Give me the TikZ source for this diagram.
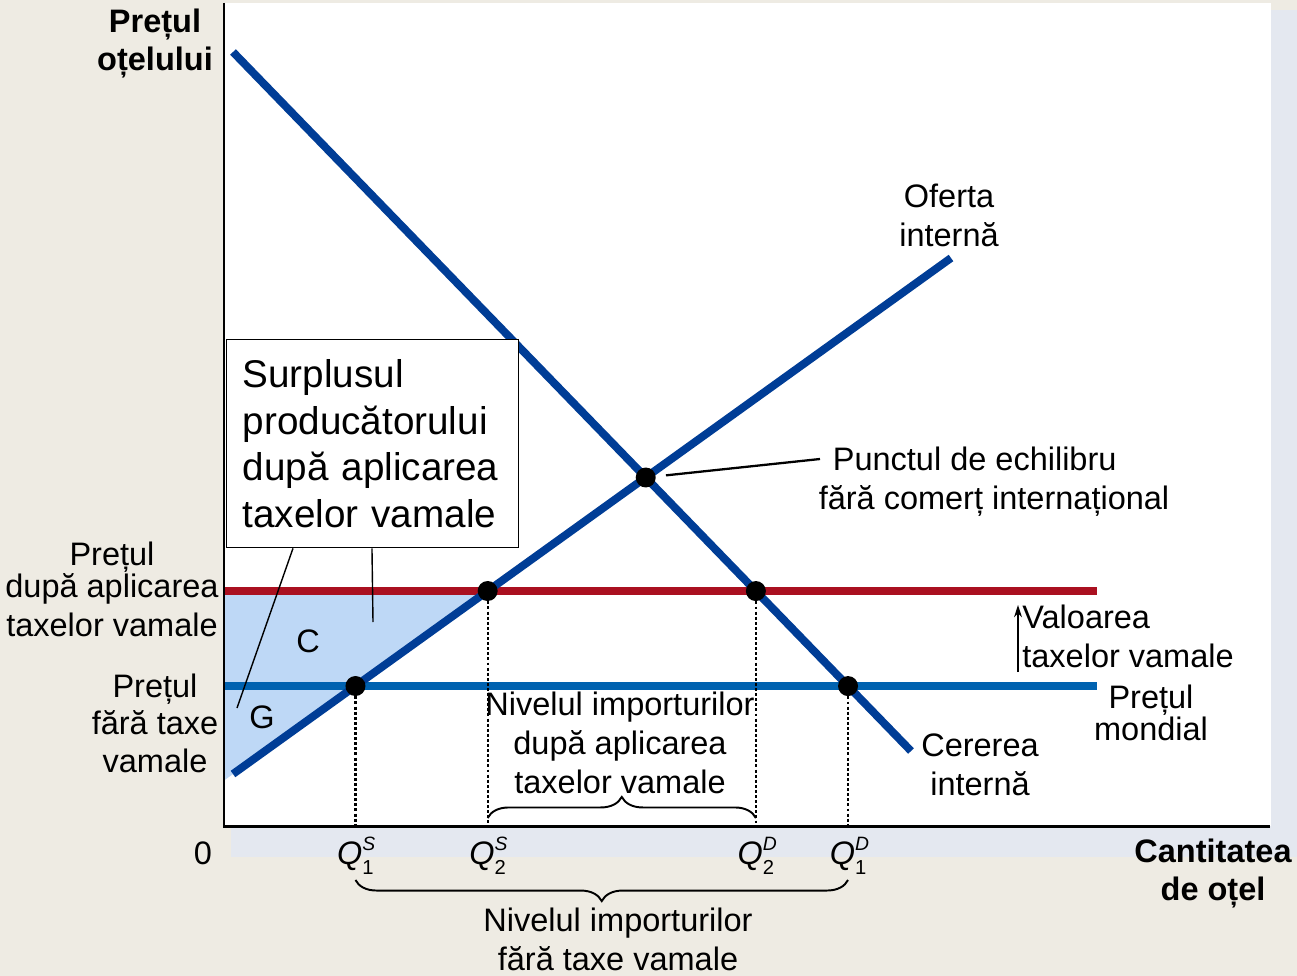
\documentclass[tikz,border=0pt]{standalone}
\usepackage{fontspec}
\setmainfont{Liberation Sans}
\usetikzlibrary{arrows.meta, positioning, decorations.pathreplacing}

\definecolor{bgbeige}{RGB}{238,235,227}
\definecolor{shadowgray}{RGB}{228,232,240}
\definecolor{curveblue}{RGB}{0,61,150}
\definecolor{tariffred}{RGB}{170,16,32}
\definecolor{worldblue}{RGB}{0,98,176}
\definecolor{surplusblue}{RGB}{190,216,246}

\newcommand{\qlab}[2]{\textit{Q}\rlap{\raisebox{0.8ex}{\fontsize{11}{11}\selectfont\textit{#2}}}\raisebox{-0.6ex}{\fontsize{11.5}{11.5}\selectfont #1}}

\begin{document}
\begin{tikzpicture}[
    x=0.02cm, y=-0.02cm,
    curve/.style={draw=curveblue, line width=4.5pt},
    tariffline/.style={draw=tariffred, line width=4.3pt},
    worldline/.style={draw=worldblue, line width=4pt},
    eqdot/.style={circle, fill=black, minimum size=0.4cm, inner sep=0pt},
    guide/.style={draw=black, line width=1.3pt, dash pattern=on 1.7pt off 1.2pt},
    axis/.style={draw=black, line width=1.7pt, line join=miter},
    lbl/.style={font=\fontsize{18.5}{22.3}\selectfont, align=center, inner sep=0pt},
    axtitle/.style={lbl, font=\fontsize{18.5}{21.8}\selectfont\bfseries},
    infobox/.style={draw=black, fill=white, line width=0.8pt, font=\fontsize{22}{26.5}\selectfont,
        text width=5.2cm, align=left, inner xsep=0.32cm, inner ysep=0.38cm, minimum height=4.16cm},
    pointer/.style={draw=black, line width=0.8pt},
    leader/.style={draw=black, line width=1.3pt, shorten <=0.2cm},
    bracedeco/.style={draw=black, line width=1.1pt, decorate, decoration={brace, amplitude=12pt}},
    tarrow/.style={draw=black, line width=0.9pt, -{Stealth[length=7pt, width=4.5pt]}}
]
    % Background
    \useasboundingbox (0,0) rectangle (1297,976);
    \fill[bgbeige] (0,0) rectangle (1297,976);
    \fill[shadowgray] (231,10) rectangle (1297,857);
    \fill[white] (224,3) rectangle (1271,826);

    % Axes and curve ends
    \coordinate (O) at (224,826);
    \coordinate (yTop) at (224,3);
    \coordinate (xEnd) at (1270,826);
    \coordinate (dTop) at (233,52);
    \coordinate (dEnd) at (911,751);
    \coordinate (sEnd) at (233,774);
    \coordinate (sTop) at (951,258);
    \coordinate (ptL) at (224,591);
    \coordinate (ptR) at (1097,591);
    \coordinate (pwL) at (224,686);
    \coordinate (pwR) at (1097,686);

    % Producer surplus
    \fill[surplusblue] (ptL) -- (intersection of ptL--ptR and sEnd--sTop)
        -- (intersection of sEnd--sTop and O--yTop) -- cycle;

    % Prices and curves
    \draw[tariffline] (ptL) -- (ptR);
    \draw[worldline] (pwL) -- (pwR);
    \draw[curve] (dTop) -- (dEnd);
    \draw[curve] (sEnd) -- (sTop);

    % Points
    \node[eqdot] (eq) at (intersection of dTop--dEnd and sEnd--sTop) {};
    \node[eqdot] (q1s) at (intersection of pwL--pwR and sEnd--sTop) {};
    \node[eqdot] (q2s) at (intersection of ptL--ptR and sEnd--sTop) {};
    \node[eqdot] (q2d) at (intersection of ptL--ptR and dTop--dEnd) {};
    \node[eqdot] (q1d) at (intersection of pwL--pwR and dTop--dEnd) {};

    \draw[guide] (q1s) -- (q1s |- O);
    \draw[guide] (q2s) -- (q2s |- O);
    \draw[guide] (q2d) -- (q2d |- O);
    \draw[guide] (q1d) -- (q1d |- O);

    % Surplus box
    \node[infobox, anchor=north west] (surplus) at (226,339)
        {Surplusul\\producătorului\\după aplicarea\\taxelor vamale};
    \coordinate (gTip) at (237,708);
    \coordinate (cTip) at (373,622);
    \draw[pointer] ([xshift=1.34cm]surplus.south west) -- (gTip);
    \draw[pointer] ([xshift=2.92cm]surplus.south west) -- (cTip);

    \node[lbl] (areaC) at (308,641) {C};
    \node[lbl] (areaG) at (262,717) {G};

    % Axes
    \draw[axis] (yTop) -- (O) -- (xEnd);

    % Axis titles
    \node[axtitle, anchor=north] (ytitle) at (155,8.5) {Prețul\\oțelului};
    \node[axtitle, anchor=north] (xtitle) at (1213,838.6) {Cantitatea\\de oțel};
    \node[lbl, anchor=base] (zero) at ([xshift=-0.42cm, yshift=-0.76cm]O) {0};

    % Quantities
    \node[lbl, anchor=base] (lq1s) at ([yshift=-0.76cm]q1s |- O) {\qlab{1}{S}};
    \node[lbl, anchor=base] (lq2s) at ([yshift=-0.76cm]q2s |- O) {\qlab{2}{S}};
    \node[lbl, anchor=base] (lq2d) at ([yshift=-0.76cm]q2d |- O) {\qlab{2}{D}};
    \node[lbl, anchor=base] (lq1d) at ([yshift=-0.76cm]q1d |- O) {\qlab{1}{D}};

    % Curve labels
    \node[lbl, anchor=north] (supply) at (949,183.6) {Oferta\\internă};
    \node[lbl, anchor=north] (demand) at (980,733.6) {Cererea\\internă};
    \node[lbl, anchor=north, font=\fontsize{18.5}{18}\selectfont] (world) at (1151,684.6) {Prețul\\mondial};

    % Equilibrium
    \node[lbl, anchor=north] (eqtext) at (994,446.6) {Punctul de echilibru\hspace*{22pt}\\fără comerț internațional};
    \coordinate (eqTip) at (820,459);
    \draw[leader] (eq) -- (eqTip);

    % Tariff size
    \coordinate (tvBase) at (1018,672);
    \coordinate (tvHead) at (1018,605);
    \draw[tarrow] (tvBase) -- (tvHead);
    \node[lbl, anchor=north west, align=left] (tariff) at (1022,604.6) {Valoarea\\taxelor vamale};

    % Price labels
    \node[lbl, anchor=north] (ptlabel) at (112,541.6) {Prețul\\[-4pt]după aplicarea\\taxelor vamale};
    \node[lbl, anchor=north, font=\fontsize{18.5}{21.3}\selectfont] (pwlabel) at (155,673.6) {Prețul\\fără taxe\\vamale};

    % Imports
    \node[lbl, anchor=north] (impafter) at (620,691.6) {Nivelul importurilor\\după aplicarea\\taxelor vamale};
    \draw[bracedeco] ([yshift=0.16cm]q2s |- O) -- ([yshift=0.16cm]q2d |- O);
    \draw[bracedeco] ([yshift=-1.08cm]q1d |- O) -- ([yshift=-1.08cm]q1s |- O);
    \node[lbl, anchor=north] (impfree) at (618,907.6) {Nivelul importurilor\\fără taxe vamale};
\end{tikzpicture}
\end{document}
